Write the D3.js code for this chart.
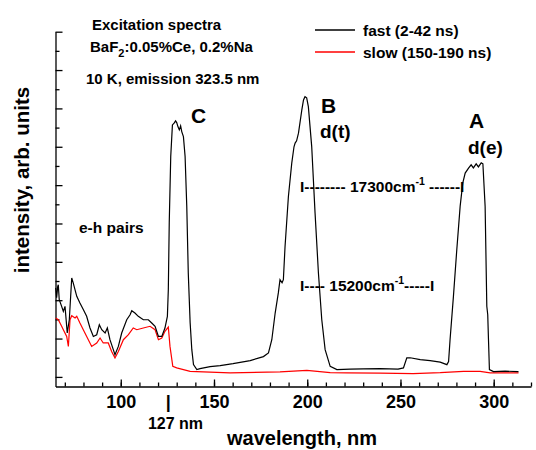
<!DOCTYPE html>
<meta charset="utf-8">
<script src="https://d3js.org/d3.v7.min.js"></script>
<style>
  body { margin: 0; background: #fff; }
  text { font-family: "Liberation Sans", Arial, sans-serif; font-weight: bold; }
</style>
<div id="chart"></div>
<script>
// fast component (2-42 ns): wavelength, nm / intensity, arb. units
const fastNm = [65.1, 65.6, 66.2, 66.5, 67.0, 68.3, 69.2, 70.1, 71.3, 72.4, 73.7, 74.5, 76.4, 78.1, 79.9,
  81.7, 83.5, 85.3, 87.1, 88.5, 89.8, 91.6, 92.8, 94.2, 96.0, 96.9, 98.7, 100.5, 103.2, 105.0, 105.9,
  107.6, 109.4, 112.1, 114.8, 116.6, 118.4, 120.2, 122.0, 123.7, 125.0, 125.5, 126.0, 126.8, 127.7,
  128.6, 129.4, 130.0, 130.7, 131.4, 132.1, 132.7, 133.6, 134.5, 135.4, 136.2, 137.2, 138.1, 139.0,
  140.8, 142.5, 147.9, 153.3, 160.2, 169.4, 176.5, 179.2, 181.0, 182.8, 184.5, 185.4, 186.5, 187.2,
  188.1, 189.9, 191.7, 192.9, 193.5, 194.3, 195.3, 197.1, 198.0, 198.8, 199.7, 200.6, 202.4, 204.2,
  206.0, 207.8, 209.6, 212.3, 215.9, 223.0, 230.1, 239.1, 248.7, 251.6, 253.4, 255.2, 260.6, 265.9,
  271.3, 274.9, 275.8, 276.6, 278.4, 280.2, 282.0, 283.4, 284.7, 286.5, 287.9, 289.1, 290.6, 291.8,
  293.3, 294.2, 295.4, 296.3, 296.8, 297.2, 297.7, 299.9, 306.1, 313.3];
const fastI = [4.64, 4.13, 4.72, 4.81, 4.03, 3.68, 3.42, 3.68, 2.29, 2.98, 5.16, 4.90, 4.20, 3.85, 3.51,
  3.16, 2.55, 2.11, 2.20, 2.72, 2.46, 2.29, 2.55, 1.94, 1.42, 1.16, 1.59, 2.29, 2.98, 3.24, 3.45,
  3.33, 3.16, 2.98, 2.98, 2.81, 2.64, 2.11, 2.11, 2.55, 3.16, 4.55, 8.04, 11.49, 13.14,
  13.23, 13.35, 13.26, 13.04, 12.88, 13.09, 12.79, 12.53, 11.49, 8.89, 5.43, 2.83, 1.42, 0.64,
  0.38, 0.43, 0.54, 0.59, 0.69, 0.85, 1.06, 1.25, 1.94, 3.33, 4.38, 5.07, 4.91, 5.07,
  6.80, 9.41, 11.15, 12.0, 12.19, 12.31, 12.71, 13.92, 14.44, 14.61, 14.55, 14.09, 12.01, 8.54,
  5.42, 2.98, 1.42, 0.55, 0.38, 0.41, 0.42, 0.43, 0.41, 0.47, 0.99, 1.0, 0.90, 0.85,
  0.77, 0.64, 0.8, 1.95, 4.20, 6.63, 8.89, 10.10, 10.63, 10.89, 11.06, 10.9, 11.11, 10.95,
  11.16, 11.11, 8.89, 3.68, 3.24, 1.95, 0.38, 0.28, 0.30, 0.28];

// slow component (150-190 ns)
const slowNm = [65.1, 66.5, 68.3, 69.2, 71.0, 71.9, 72.8, 73.7, 75.5, 76.4, 78.1, 79.9, 82.6, 84.4,
  87.1, 88.9, 90.6, 93.3, 95.1, 96.9, 98.7, 101.4, 104.1, 106.7, 108.6, 112.1, 115.7, 118.4, 120.2,
  122.0, 123.7, 125.5, 126.4, 127.9, 130.0, 137.2, 158.6, 185.4, 199.8, 212.3, 221.2, 239.1, 256.8,
  271.3, 283.8, 292.7, 298.1, 313.3];
const slowI = [3.07, 2.98, 2.64, 2.46, 2.11, 1.59, 2.98, 3.19, 3.07, 3.16, 2.81, 2.46, 1.94, 1.59,
  1.77, 2.03, 1.77, 1.77, 1.33, 0.99, 1.33, 1.94, 2.20, 2.55, 2.46, 2.55, 2.64, 2.46, 1.94,
  2.03, 2.38, 2.60, 1.59, 0.55, 0.47, 0.29, 0.21, 0.26, 0.34, 0.22, 0.21, 0.20, 0.17,
  0.22, 0.29, 0.29, 0.21, 0.21];

const xMajorTicks = [100, 150, 200, 250, 300];
const xMinorTicks = d3.range(70, 321, 10);
const yTicks = d3.range(0, 19, 1);

const width = 536, height = 450;

const svg = d3.select("#chart")
  .append("svg")
  .attr("width", width)
  .attr("height", height);

// scales
const x = d3.scaleLinear().domain([65, 320]).range([55.5, 531]);
const y = d3.scaleLinear().domain([-0.5, 18]).range([386.5, 31.7]);

// x axis, ticks pointing inward
svg.append("g")
  .attr("transform", `translate(0, ${y(-0.5)})`)
  .call(d3.axisBottom(x).tickValues(xMinorTicks).tickSizeInner(-4).tickSizeOuter(0).tickFormat(""))
  .call(g => g.selectAll("line, path").attr("stroke", "#000").attr("stroke-width", 1.3));

svg.append("g")
  .attr("transform", `translate(0, ${y(-0.5)})`)
  .call(d3.axisBottom(x).tickValues(xMajorTicks).tickSizeInner(-7).tickSizeOuter(0).tickPadding(9))
  .call(g => g.select(".domain").remove())
  .call(g => g.selectAll("line").attr("stroke", "#000").attr("stroke-width", 1.3))
  .call(g => g.selectAll("text")
    .attr("font-size", 18)
    .attr("fill", "#000")
    .attr("font-family", "'Liberation Sans', Arial, sans-serif")
    .attr("font-weight", "bold"));

// y axis, no labels
svg.append("g")
  .attr("transform", `translate(${x(65)}, 0)`)
  .call(d3.axisLeft(y).tickValues(yTicks).tickSizeOuter(0).tickFormat(""))
  .call(g => g.selectAll(".tick line").attr("x2", d => d % 2 === 0 ? 7 : 4))
  .call(g => g.selectAll("line, path").attr("stroke", "#000").attr("stroke-width", 1.3));

// curves
const line = d3.line()
  .x(d => x(d[0]))
  .y(d => y(d[1]));

svg.append("path")
  .datum(slowNm.map((d, i) => [d, slowI[i]]))
  .attr("d", line)
  .attr("fill", "none")
  .attr("stroke", "#ff0000")
  .attr("stroke-width", 1.2);

svg.append("path")
  .datum(fastNm.map((d, i) => [d, fastI[i]]))
  .attr("d", line)
  .attr("fill", "none")
  .attr("stroke", "#000")
  .attr("stroke-width", 1.2);

// legend
const legend = [["fast (2-42 ns)", "#000", 30], ["slow (150-190 ns)", "#ff0000", 52]];
legend.forEach(([label, color, ly]) => {
  svg.append("line")
    .attr("x1", 315).attr("x2", 355)
    .attr("y1", ly).attr("y2", ly)
    .attr("stroke", color).attr("stroke-width", 1.3);
  svg.append("text")
    .attr("x", 363).attr("y", ly + 6)
    .attr("font-size", 15.5)
    .text(label);
});

// description text
svg.append("text").attr("x", 92).attr("y", 30).attr("font-size", 15).text("Excitation spectra");
const baf = svg.append("text").attr("x", 90).attr("y", 52).attr("font-size", 15);
baf.append("tspan").text("BaF");
baf.append("tspan").attr("font-size", 11).attr("dy", 5).text("2");
baf.append("tspan").attr("dy", -5).text(":0.05%Ce, 0.2%Na");
svg.append("text").attr("x", 86).attr("y", 83.5).attr("font-size", 15).text("10 K, emission 323.5 nm");

// peak labels
svg.append("text").attr("x", 191).attr("y", 122.5).attr("font-size", 21).text("C");
svg.append("text").attr("x", 321).attr("y", 112.5).attr("font-size", 21).text("B");
svg.append("text").attr("x", 320).attr("y", 137.5).attr("font-size", 19).text("d(t)");
svg.append("text").attr("x", 469).attr("y", 127.5).attr("font-size", 21).text("A");
svg.append("text").attr("x", 468).attr("y", 154).attr("font-size", 19).text("d(e)");

// energy separations
const s1 = svg.append("text").attr("x", 300).attr("y", 192).attr("font-size", 15.5);
s1.append("tspan").text("I-------- 17300cm");
s1.append("tspan").attr("font-size", 10.5).attr("dy", -7).text("-1");
s1.append("tspan").attr("dy", 7).text(" ------I");

const s2 = svg.append("text").attr("x", 300).attr("y", 290.5).attr("font-size", 15.5);
s2.append("tspan").text("I---- 15200cm");
s2.append("tspan").attr("font-size", 10.5).attr("dy", -7).text("-1");
s2.append("tspan").attr("dy", 7).text("-----I");

svg.append("text").attr("x", 79).attr("y", 233).attr("font-size", 15.5).text("e-h pairs");

// 127 nm marker
svg.append("text").attr("x", x(125.5)).attr("y", 408).attr("text-anchor", "middle")
  .attr("font-size", 18).text("|");
svg.append("text").attr("x", 175.5).attr("y", 429).attr("text-anchor", "middle")
  .attr("font-size", 16).text("127 nm");

// axis titles
svg.append("text").attr("x", 302).attr("y", 445).attr("text-anchor", "middle")
  .attr("font-size", 20).text("wavelength, nm");
svg.append("text")
  .attr("transform", "translate(29, 180) rotate(-90)")
  .attr("text-anchor", "middle")
  .attr("font-size", 20.5)
  .text("intensity, arb. units");
</script>
